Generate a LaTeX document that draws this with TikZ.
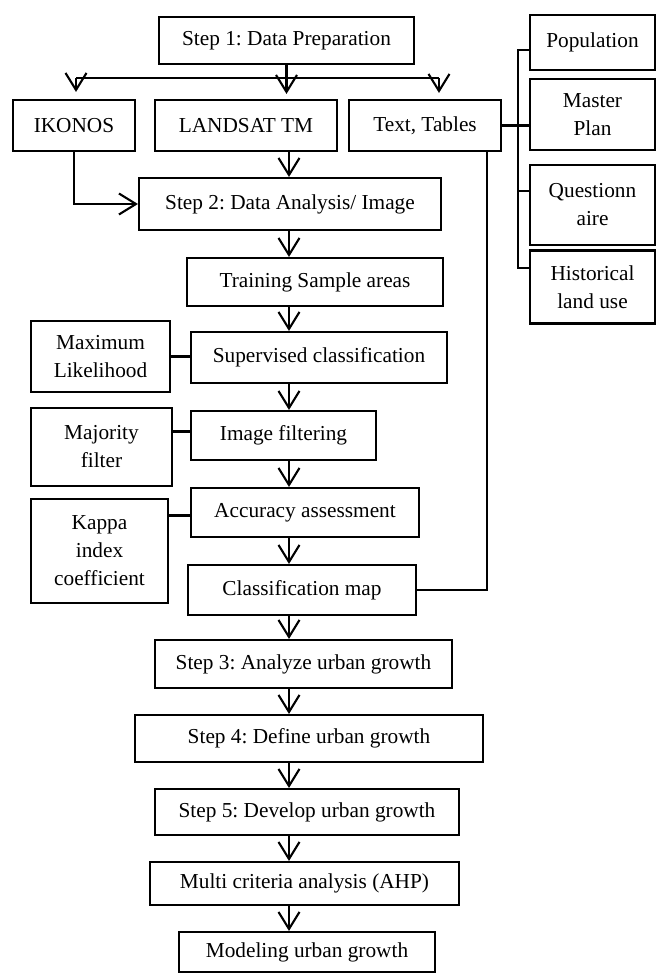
\documentclass[tikz,border=0pt]{standalone}
\usepackage{fontspec}
\setmainfont{Liberation Serif}
\usetikzlibrary{arrows.meta}

\tikzset{
  box/.style={draw, line width=2.1pt, inner sep=0pt, align=center,
    font=\fontsize{21.3}{28}\selectfont},
  link/.style={line width=2.1pt},
  flow/.style={line width=2.1pt, -{Straight Barb[length=17pt,width=21pt]}},
}

\begin{document}
\frenchspacing
\begin{tikzpicture}[x=1pt,y=-1pt]
    \useasboundingbox (0,0) rectangle (656,974);

    % Step 1 and the three sources
    \node[box, minimum width=255pt, minimum height=47pt] (step1) at (286.5,40.5) {Step 1: Data Preparation};
    \node[box, minimum width=122pt, minimum height=51pt] (ikonos) at (74,125.5) {IKONOS};
    \node[box, minimum width=182pt, minimum height=51pt] (landsat) at (246,125.5) {LANDSAT TM};
    \node[box, minimum width=152pt, minimum height=51pt] (texttab) at (425,125.5) {Text, Tables};

    % Text sources on the right
    \node[box, minimum width=125pt, minimum height=55pt] (pop) at (592.5,42.5) {Population};
    \node[box, minimum width=125pt, minimum height=71pt] (master) at (592.5,114.5) {Master\\Plan};
    \node[box, minimum width=125pt, minimum height=80pt] (quest) at (592.5,205) {Questionn\\aire};
    \node[box, minimum width=125pt, minimum height=73pt] (hist) at (592.5,287) {Historical\\land use};

    % Step 2 and image classification
    \node[box, minimum width=302pt, minimum height=52pt] (step2) at (290,204) {Step 2: Data Analysis/ Image};
    \node[box, minimum width=256pt, minimum height=48pt] (training) at (315,282) {Training Sample areas};
    \node[box, minimum width=256pt, minimum height=51pt] (superv) at (319,357.5) {Supervised classification};
    \node[box, minimum width=139pt, minimum height=71pt] (maxlik) at (100.5,356.5) {Maximum\\Likelihood};
    \node[box, minimum width=185pt, minimum height=49pt] (filter) at (283.5,435.5) {Image filtering};
    \node[box, minimum width=141pt, minimum height=78pt] (major) at (101.5,447) {Majority\\filter};
    \node[box, minimum width=228pt, minimum height=49pt] (accur) at (305,512.5) {Accuracy assessment};
    \node[box, minimum width=137pt, minimum height=104pt] (kappa) at (99.5,551) {Kappa\\index\\coefficient};
    \node[box, minimum width=228pt, minimum height=50pt] (classmap) at (302,590) {Classification map};

    % Steps 3 to 5 and modeling
    \node[box, minimum width=297pt, minimum height=48pt] (step3) at (303.5,664) {Step 3: Analyze urban growth};
    \node[box, minimum width=348pt, minimum height=47pt] (step4) at (309,738.5) {Step 4: Define urban growth};
    \node[box, minimum width=304pt, minimum height=46pt] (step5) at (307,812) {Step 5: Develop urban growth};
    \node[box, minimum width=309pt, minimum height=43pt] (multi) at (304.5,883.5) {Multi criteria analysis (AHP)};
    \node[box, minimum width=256pt, minimum height=40pt] (model) at (307,952) {Modeling urban growth};

    \coordinate (barL) at (76,78);
    \coordinate (barR) at (439,78);
    \coordinate (spine) at (289,0);
    \coordinate (drop) at (487,0);
    \coordinate (brk) at (518,0);

    % fork below step 1
    \draw[link] (step1.south) -- (step1.south |- barL);
    \draw[link] (barL) -- (barR);
    \draw[flow, shorten >=7pt] (barL) -- (barL |- ikonos.north);
    \draw[flow, shorten >=5pt] (step1.south |- barL) -- (step1.south |- landsat.north);
    \draw[flow, shorten >=6pt] (barR) -- (barR |- texttab.north);

    % into step 2
    \draw[flow] (ikonos.south) |- (step2.west);
    \draw[flow] (landsat.south -| spine) -- (step2.north -| spine);

    % main column
    \draw[flow] (step2.south -| spine) -- (training.north -| spine);
    \draw[flow] (training.south -| spine) -- (superv.north -| spine);
    \draw[flow] (superv.south -| spine) -- (filter.north -| spine);
    \draw[flow] (filter.south -| spine) -- (accur.north -| spine);
    \draw[flow] (accur.south -| spine) -- (classmap.north -| spine);
    \draw[flow] (classmap.south -| spine) -- (step3.north -| spine);
    \draw[flow] (step3.south -| spine) -- (step4.north -| spine);
    \draw[flow] (step4.south -| spine) -- (step5.north -| spine);
    \draw[flow] (step5.south -| spine) -- (multi.north -| spine);
    \draw[flow] (multi.south -| spine) -- (model.north -| spine);

    % methods on the left
    \draw[link] (maxlik.east) -- (maxlik.east -| superv.west);
    \draw[link] ([yshift=4pt]filter.west) -- ([yshift=4pt]filter.west -| major.east);
    \draw[link] ([yshift=-3pt]accur.west) -- ([yshift=-3pt]accur.west -| kappa.east);

    % text sources
    \draw[link] (texttab.south -| drop) |- (classmap.east);
    \draw[link] (texttab.east) -- (texttab.east -| master.west);
    \draw[link] ([yshift=-7.5pt]pop.west) -| ([yshift=19pt]hist.west -| brk) -- ([yshift=19pt]hist.west);
    \draw[link] ([yshift=14pt]quest.west) -- ([yshift=14pt]quest.west -| brk);
\end{tikzpicture}
\end{document}
